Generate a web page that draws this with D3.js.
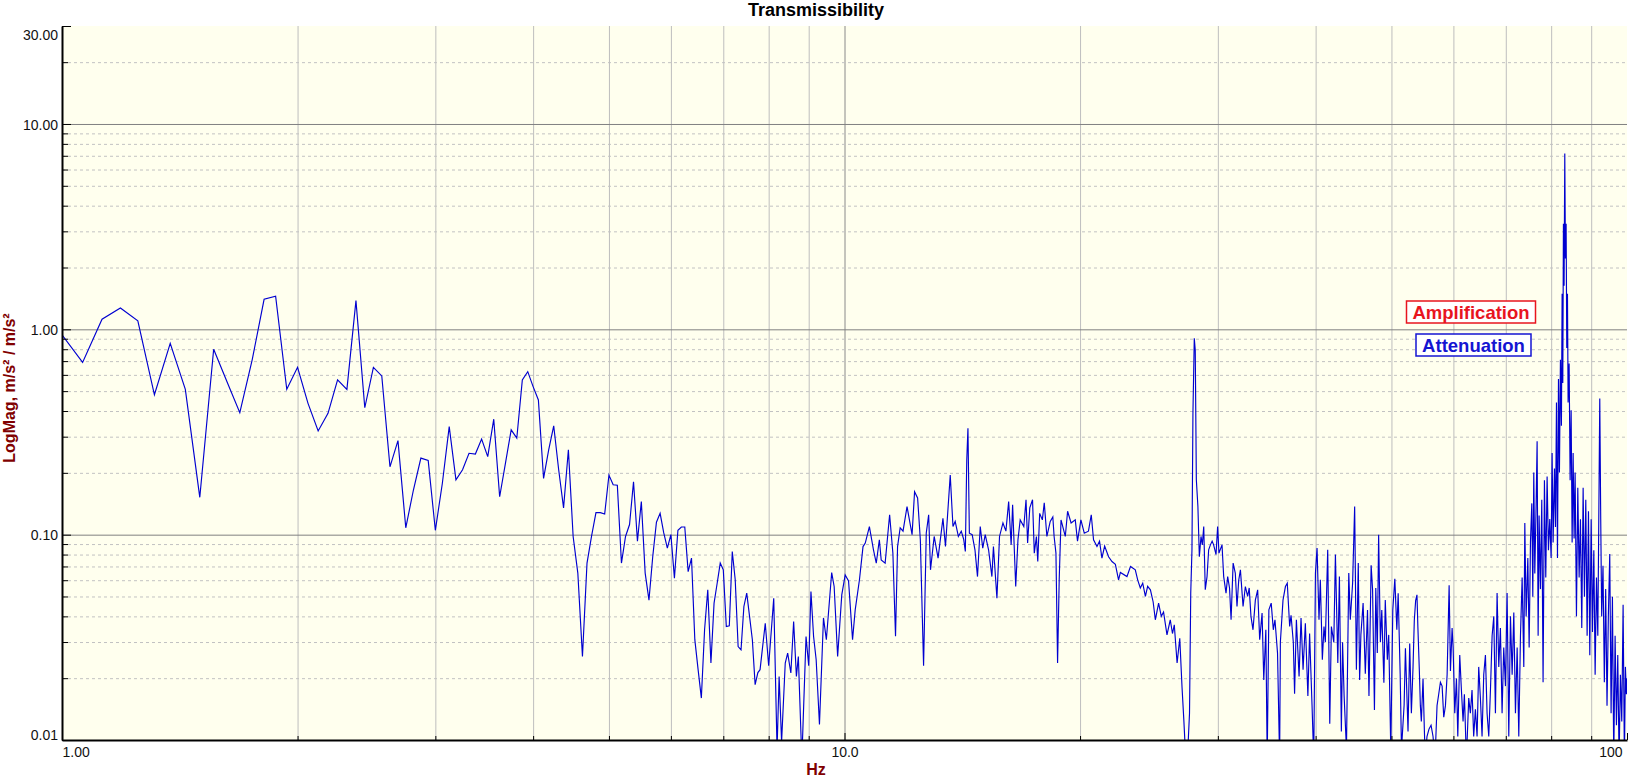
<!DOCTYPE html>
<html><head><meta charset="utf-8">
<script src="https://cdn.jsdelivr.net/npm/d3@7"></script>
<style>
body{margin:0;background:#fff}
svg{display:block}
text{font-family:"Liberation Sans",Arial,Helvetica,sans-serif}
</style>
</head><body>
<svg id="c" width="1631" height="777"></svg>
<script>
// ---------- texts & ticks ----------
const chartTitle = "Transmissibility";
const xTitle = "Hz";
const yTitle = "LogMag, m/s² / m/s²";
const legendLabels = ["Amplification", "Attenuation"];
const xTickValues = [1, 10, 100];
const xTickLabels = ["1.00", "10.0", "100"];
const yTickValues = [0.01, 0.1, 1, 10, 30];
const yTickLabels = ["0.01", "0.10", "1.00", "10.00", "30.00"];
const xMinorGrid = [2,3,4,5,6,7,8,9,20,30,40,50,60,70,80,90];
const yMajorGrid = [0.1, 1, 10];
const yMinorGrid = [0.02,0.03,0.04,0.05,0.06,0.07,0.08,0.09,0.2,0.3,0.4,0.5,0.6,0.7,0.8,0.9,2,3,4,5,6,7,8,9,20];

// ---------- series: [Hz, magnitude] ----------
const band1 = [[1.0,0.94],[1.0625,0.69],[1.125,1.12],[1.1875,1.27],[1.25,1.10],[1.3125,0.48],[1.375,0.855],[1.4375,0.51],[1.5,0.152],[1.5625,0.80],[1.625,0.556],[1.6875,0.393],[1.75,0.71],[1.8125,1.40],[1.875,1.45],[1.9375,0.51],[2.0,0.653],[2.0625,0.436],[2.125,0.32],[2.1875,0.39],[2.25,0.567],[2.3125,0.51],[2.375,1.38],[2.4375,0.415],[2.5,0.653],[2.5625,0.593],[2.625,0.214],[2.6875,0.287],[2.75,0.108],[2.8125,0.165],[2.875,0.236],[2.9375,0.23],[3.0,0.105],[3.0625,0.178],[3.125,0.336],[3.1875,0.185],[3.25,0.207],[3.3125,0.249],[3.375,0.247],[3.4375,0.292],[3.5,0.24],[3.5625,0.365],[3.625,0.153],[3.6875,0.223],[3.75,0.324],[3.8125,0.295],[3.875,0.567],[3.9375,0.622],[4.0,0.526],[4.0625,0.453],[4.125,0.188],[4.1875,0.259],[4.25,0.339],[4.3125,0.207],[4.375,0.135],[4.4375,0.259],[4.5,0.098],[4.5625,0.065],[4.625,0.0255],[4.6875,0.0727],[4.75,0.098],[4.8125,0.128],[4.875,0.128],[4.9375,0.126]];
const band2 = [[5.0,0.195],[5.0625,0.175],[5.125,0.174],[5.1875,0.0727],[5.25,0.098],[5.3125,0.112],[5.375,0.181],[5.4375,0.093],[5.5,0.145],[5.5625,0.065],[5.625,0.048],[5.6875,0.078],[5.75,0.115],[5.8125,0.127],[5.875,0.102],[5.9375,0.086],[6.0,0.1],[6.0625,0.0614],[6.125,0.105],[6.1875,0.109],[6.25,0.109],[6.3125,0.066],[6.375,0.0769],[6.4375,0.0308],[6.5,0.022],[6.5625,0.016],[6.625,0.0344],[6.6875,0.0539],[6.75,0.0237],[6.8125,0.0464],[6.875,0.058],[6.9375,0.0727],[7.0,0.0674],[7.0625,0.0357],[7.125,0.036],[7.1875,0.0828],[7.25,0.0603],[7.3125,0.0285],[7.375,0.0275],[7.4375,0.0447],[7.5,0.0519],[7.5625,0.04],[7.625,0.0308],[7.6875,0.0186],[7.75,0.0213]];
const band3 = [[7.80,0.022],[7.92,0.037],[8.0,0.023],[8.12,0.049],[8.2,0.009],[8.25,0.0204],[8.31,0.0098],[8.40,0.0237],[8.46,0.0265],[8.54,0.0212],[8.61,0.0378],[8.68,0.0204],[8.73,0.0255],[8.82,0.008],[8.93,0.0319],[9.0,0.023],[9.06,0.0529],[9.13,0.032],[9.2,0.0246],[9.29,0.0119],[9.40,0.0393],[9.48,0.0308],[9.63,0.0654],[9.70,0.0559],[9.80,0.0255],[9.92,0.0509],[10.02,0.0637],[10.12,0.0595],[10.24,0.0308],[10.32,0.043],[10.45,0.0603],[10.56,0.0875],[10.63,0.091],[10.76,0.1095],[10.89,0.0844],[10.98,0.0727],[11.08,0.0944],[11.14,0.0754],[11.27,0.0727],[11.42,0.125],[11.53,0.0813],[11.62,0.032],[11.69,0.0875],[11.78,0.108],[11.88,0.104],[12.02,0.137],[12.20,0.1],[12.29,0.162],[12.40,0.151],[12.50,0.0944],[12.62,0.023],[12.72,0.1017],[12.81,0.125],[12.88,0.0674],[13.02,0.098],[13.17,0.0769],[13.36,0.12],[13.46,0.0875],[13.65,0.195],[13.76,0.1095],[13.85,0.116],[13.98,0.098],[14.1,0.104],[14.2,0.095],[14.27,0.0828],[14.33,0.231],[14.38,0.33],[14.44,0.1017],[14.56,0.1],[14.68,0.0844],[14.79,0.0625],[14.91,0.1095],[15.02,0.086],[15.13,0.1],[15.28,0.0844],[15.43,0.0625],[15.50,0.0875],[15.66,0.049],[15.78,0.098],[15.94,0.114],[16.08,0.104],[16.21,0.145],[16.33,0.0892],[16.40,0.14],[16.55,0.0559],[16.66,0.0944],[16.77,0.118],[16.95,0.1095],[17.06,0.148],[17.14,0.091],[17.25,0.135],[17.39,0.148],[17.48,0.0813],[17.59,0.098],[17.66,0.074],[17.76,0.127],[17.90,0.118],[18.00,0.143],[18.14,0.098],[18.32,0.116],[18.46,0.122],[18.53,0.098],[18.63,0.0813],[18.72,0.0237],[18.81,0.0603],[18.91,0.118],[19.15,0.098],[19.28,0.13],[19.48,0.114],[19.72,0.118],[19.85,0.093],[20.05,0.118],[20.25,0.1017],[20.50,0.104],[20.67,0.125],[20.81,0.0944],[21.02,0.0875],[21.18,0.093],[21.33,0.0769],[21.50,0.088],[21.75,0.078],[21.97,0.074],[22.19,0.0717],[22.40,0.0603],[22.52,0.0655]];
const band4 = [[22.96,0.0625],[23.2,0.07],[23.53,0.0674],[23.7,0.06],[23.88,0.055],[24.05,0.058],[24.24,0.05],[24.4,0.056],[24.60,0.0539],[24.8,0.047],[24.96,0.0385],[25.2,0.0464],[25.4,0.04],[25.57,0.042],[25.83,0.0325],[26.08,0.0385],[26.25,0.033],[26.39,0.0364],[26.61,0.0237],[26.82,0.0313],[27.0,0.018],[27.14,0.0126],[27.26,0.009],[27.5,0.01],[27.6,0.0135],[27.7,0.0519],[27.8,0.0844],[27.88,0.39],[27.99,0.904],[28.07,0.79],[28.16,0.185],[28.29,0.137],[28.41,0.078],[28.55,0.098],[28.66,0.0892],[28.78,0.1095],[28.91,0.0539],[29.06,0.0625],[29.2,0.0844],[29.35,0.0892],[29.5,0.093],[29.63,0.0892],[29.84,0.08],[29.98,0.1095],[30.1,0.0813],[30.37,0.0892],[30.52,0.0625],[30.73,0.0519],[30.88,0.0625],[31.05,0.055],[31.19,0.0385],[31.38,0.0727],[31.58,0.065],[31.74,0.0447],[31.9,0.06],[32.06,0.0674],[32.31,0.0447],[32.53,0.0559],[32.75,0.05],[32.9,0.055],[33.07,0.04],[33.27,0.0344],[33.5,0.048],[33.73,0.0539],[33.93,0.0308],[34.17,0.0415],[34.34,0.0196],[34.55,0.0344],[34.69,0.008],[34.86,0.043],[35.1,0.0464],[35.32,0.0344],[35.49,0.0385],[35.76,0.0265],[35.98,0.008],[36.06,0.0299],[36.34,0.048],[36.6,0.0559],[36.8,0.058],[37.06,0.0357],[37.21,0.0405],[37.46,0.0299],[37.6,0.0168],[37.8,0.0385],[38.1,0.0204],[38.32,0.0393],[38.55,0.022],[38.81,0.037],[39.1,0.0164],[39.3,0.033],[39.58,0.0148],[39.78,0.008],[39.98,0.065],[40.17,0.086],[40.4,0.0385],[40.56,0.0603],[40.8,0.0246],[41.0,0.0357],[41.16,0.0299],[41.45,0.0844],[41.7,0.012],[41.9,0.0357],[42.2,0.0299],[42.4,0.08],[42.7,0.0237],[42.9,0.0625],[43.15,0.011],[43.3,0.0299],[43.5,0.0164],[43.8,0.009],[44.1,0.065],[44.3,0.0385],[44.6,0.058],[44.87,0.137],[45.1,0.022],[45.35,0.0727],[45.53,0.0196],[45.7,0.0325],[46.0,0.0464],[46.3,0.021],[46.6,0.043],[46.8,0.0164],[47.1,0.071],[47.3,0.0539],[47.56,0.014],[47.75,0.055],[47.96,0.0265],[48.15,0.1],[48.4,0.0299],[48.6,0.043],[48.9,0.019],[49.1,0.048],[49.4,0.0246],[49.6,0.0325],[49.9,0.009],[50.2,0.043],[50.5,0.061],[50.8,0.0344],[51.0,0.0519],[51.3,0.021],[51.5,0.009],[51.9,0.0148],[52.1,0.028],[52.5,0.011]];
const band5 = [[52.76,0.0295],[53.02,0.0135],[53.28,0.0227],[53.48,0.0383],[53.69,0.0477],[53.90,0.0509],[54.05,0.0351],[54.28,0.0217],[54.44,0.0147],[54.60,0.0123],[54.87,0.0199],[55.08,0.0113],[55.24,0.008],[55.51,0.0104],[55.84,0.0113],[56.18,0.0118],[56.51,0.0104],[56.84,0.008],[57.18,0.0147],[57.46,0.0167],[57.75,0.0191],[58.04,0.0183],[58.32,0.0129],[58.61,0.0147],[58.90,0.0208],[59.25,0.0567],[59.48,0.0217],[59.77,0.0351],[59.95,0.0282],[60.24,0.0135],[60.54,0.0199],[60.78,0.0104],[61.13,0.0259],[61.43,0.0175],[61.73,0.0123],[61.97,0.0167],[62.34,0.008],[62.77,0.016],[63.07,0.0135],[63.38,0.0175],[63.69,0.0104],[64.01,0.0141],[64.33,0.0104],[64.64,0.0227],[64.96,0.016],[65.28,0.0104],[65.60,0.0208],[65.93,0.0259],[66.25,0.0135],[66.58,0.0104],[66.91,0.0175],[67.24,0.0322],[67.57,0.04],[67.90,0.0135],[68.23,0.052],[68.57,0.0227],[68.90,0.0351],[69.24,0.0135],[69.58,0.0282],[69.93,0.0183],[70.27,0.052],[70.62,0.0104],[70.97,0.04],[71.32,0.0208],[71.67,0.0418],[72.02,0.0135],[72.38,0.0282],[72.73,0.0104],[73.09,0.0322],[73.45,0.0619],[73.81,0.0227],[74.03,0.114],[74.32,0.04],[74.69,0.0769],[74.98,0.0282],[75.27,0.0917],[75.57,0.142],[75.79,0.0498],[76.01,0.201],[76.24,0.0647],[76.54,0.142],[76.76,0.285],[76.99,0.0322],[77.21,0.124],[77.51,0.0543],[77.82,0.148],[78.12,0.0191],[78.43,0.184],[78.74,0.0619],[79.05,0.192],[79.36,0.084],[79.67,0.119],[79.99,0.0769],[80.22,0.25],[80.46,0.0917],[80.78,0.21],[81.02,0.109],[81.26,0.44],[81.50,0.0769],[81.74,0.573],[81.97,0.201],[82.21,0.711],[82.45,0.339],[82.62,1.49],[82.78,0.548],[82.94,3.27],[83.10,1.63],[83.27,7.18],[83.43,2.21],[83.60,3.27],[83.76,0.811],[83.93,1.49],[84.09,0.44],[84.34,0.681],[84.59,0.184],[84.84,0.404],[85.09,0.0917],[85.34,0.25],[85.59,0.0958],[85.84,0.201],[86.18,0.04],[86.52,0.169],[86.86,0.0619],[87.20,0.119],[87.54,0.0351],[87.89,0.169],[88.23,0.0498],[88.58,0.148],[88.93,0.0322],[89.28,0.13],[89.63,0.0259],[89.99,0.119],[90.34,0.0336],[90.70,0.084],[91.05,0.0208],[91.41,0.0619],[91.77,0.0322],[92.12,0.184],[92.30,0.46],[92.56,0.119],[92.82,0.04],[93.18,0.0705],[93.55,0.0191],[93.92,0.0543],[94.29,0.0147],[94.66,0.04],[95.05,0.0804],[95.43,0.0135],[95.80,0.0498],[96.18,0.008],[96.56,0.0322],[96.94,0.0118],[97.32,0.0259],[97.70,0.008],[98.08,0.0208],[98.47,0.0123],[98.86,0.0456],[99.24,0.008],[99.53,0.0227],[99.82,0.0167],[100.0,0.02]];

// ---------- drawing ----------
const svg = d3.select("#c");
const L = 62, R = 1627, T = 26, B = 740;
const x = d3.scaleLog().domain([1, 100]).range([L, R]);
const y = d3.scaleLog().domain([0.01, 30]).range([B, T]);
const darkRed = "#800000";

svg.append("rect").attr("x", L).attr("y", T).attr("width", R - L).attr("height", B - T).attr("fill", "#FFFFEE");

// vertical grid
svg.append("g").attr("transform", `translate(0,${B})`)
  .call(d3.axisBottom(x).tickValues(xMinorGrid).tickSize(-(B - T)).tickFormat(""))
  .call(g => { g.select(".domain").remove(); g.selectAll("line").attr("stroke", "#BEBEBE"); });
svg.append("g").attr("transform", `translate(0,${B})`)
  .call(d3.axisBottom(x).tickValues([10]).tickSize(-(B - T)).tickFormat(""))
  .call(g => { g.select(".domain").remove(); g.selectAll("line").attr("stroke", "#8A8A8A"); });

// horizontal grid
svg.append("g").attr("transform", `translate(${L},0)`)
  .call(d3.axisLeft(y).tickValues(yMinorGrid).tickSize(-(R - L)).tickFormat(""))
  .call(g => { g.select(".domain").remove(); g.selectAll("line").attr("stroke", "#C2C2C2").attr("stroke-dasharray", "3,3"); });
svg.append("g").attr("transform", `translate(${L},0)`)
  .call(d3.axisLeft(y).tickValues(yMajorGrid).tickSize(-(R - L)).tickFormat(""))
  .call(g => { g.select(".domain").remove(); g.selectAll("line").attr("stroke", "#808080"); });

// data
svg.append("clipPath").attr("id", "clip").append("rect")
  .attr("x", L).attr("y", T).attr("width", R - L).attr("height", B - T);
const series = [...band1, ...band2, ...band3, ...band4, ...band5];
const line = d3.line().x(d => x(d[0])).y(d => y(d[1]));
svg.append("path").datum(series).attr("d", line)
  .attr("fill", "none").attr("stroke", "#0000D0").attr("stroke-width", 1.15)
  .attr("stroke-linejoin", "miter").attr("clip-path", "url(#clip)");

// left axis: minor ticks, major ticks + labels
svg.append("g").attr("transform", `translate(${L},0)`)
  .call(d3.axisLeft(y).tickValues(yMinorGrid).tickSize(-6).tickFormat(""))
  .call(g => { g.select(".domain").remove(); g.selectAll("line").attr("stroke", "#000"); });
const yAx = svg.append("g").attr("transform", `translate(${L},0)`)
  .call(d3.axisLeft(y).tickValues(yTickValues).tickSizeInner(-9).tickSizeOuter(0).tickPadding(4)
    .tickFormat((d, i) => yTickLabels[i]));
yAx.select(".domain").attr("stroke", "#000").attr("stroke-width", 2);
yAx.selectAll("line").attr("stroke", "#000");
yAx.selectAll("text").attr("font-size", 14).attr("fill", "#111")
  .attr("font-family", '"Liberation Sans",Arial,sans-serif')
  .attr("dy", (d) => d === 30 ? "0.95em" : (d === 0.01 ? "-0.02em" : "0.36em"));

// bottom axis
svg.append("g").attr("transform", `translate(0,${B})`)
  .call(d3.axisBottom(x).tickValues(xMinorGrid).tickSize(-4).tickFormat(""))
  .call(g => { g.select(".domain").remove(); g.selectAll("line").attr("stroke", "#000"); });
const xAx = svg.append("g").attr("transform", `translate(0,${B})`)
  .call(d3.axisBottom(x).tickValues(xTickValues).tickSizeInner(-7).tickSizeOuter(0).tickPadding(7)
    .tickFormat((d, i) => xTickLabels[i]));
xAx.select(".domain").attr("stroke", "#000").attr("stroke-width", 2);
xAx.selectAll("line").attr("stroke", "#000");
xAx.selectAll("text").attr("font-size", 14).attr("fill", "#111")
  .attr("font-family", '"Liberation Sans",Arial,sans-serif')
  .attr("y", 17).attr("dy", 0)
  .attr("text-anchor", d => d === 1 ? "start" : (d === 100 ? "end" : "middle"))
  .attr("dx", d => d === 100 ? -5 : 0);

// titles
svg.append("text").attr("x", 816).attr("y", 16).attr("text-anchor", "middle")
  .attr("font-size", 18).attr("font-weight", "bold").attr("fill", "#000").text(chartTitle);
svg.append("text").attr("x", 816).attr("y", 775).attr("text-anchor", "middle")
  .attr("font-size", 16).attr("font-weight", "bold").attr("fill", darkRed).text(xTitle);
svg.append("text").attr("transform", "translate(15,388) rotate(-90)").attr("text-anchor", "middle")
  .attr("font-size", 16).attr("font-weight", "bold").attr("fill", darkRed).text(yTitle);

// legend labels
const legendStyle = [
  { cx: 1471, top: 301, w: 129, color: "#E8141E" },
  { cx: 1473.5, top: 334, w: 115, color: "#1414D2" }
];
legendLabels.forEach((lab, i) => {
  const s = legendStyle[i];
  svg.append("rect").attr("x", s.cx - s.w / 2).attr("y", s.top).attr("width", s.w).attr("height", 22)
    .attr("fill", "#fff").attr("stroke", s.color).attr("stroke-width", 1.5);
  svg.append("text").attr("x", s.cx).attr("y", s.top + 17.5).attr("text-anchor", "middle")
    .attr("font-size", 18.5).attr("font-weight", "bold").attr("fill", s.color).text(lab);
});
</script>
</body></html>
